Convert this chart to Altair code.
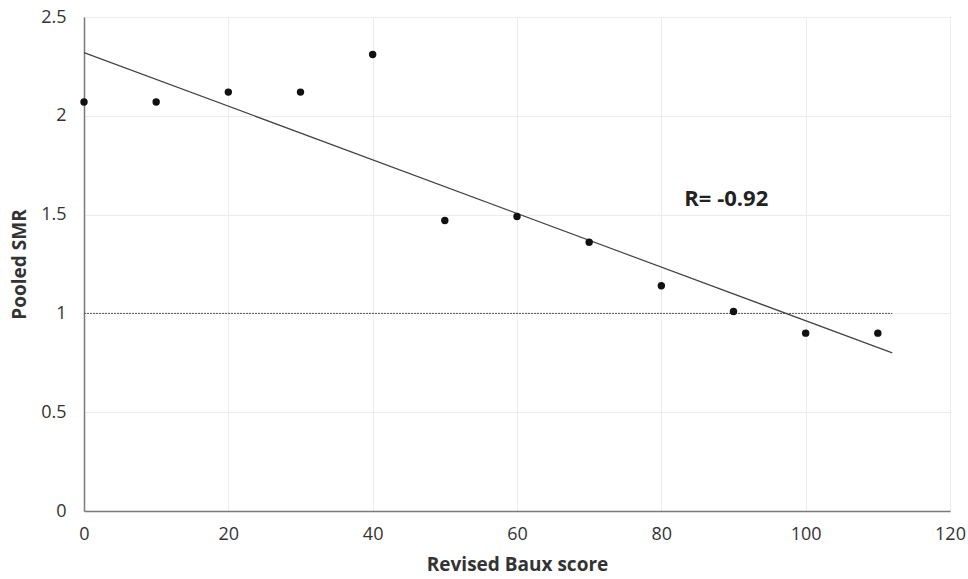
import altair as alt
import pandas as pd

baux = [0, 10, 20, 30, 40, 50, 60, 70, 80, 90, 100, 110]
smr = [2.07, 2.07, 2.12, 2.12, 2.31, 1.47, 1.49, 1.36, 1.14, 1.01, 0.90, 0.90]
trend_x = [0, 112]
trend_y = [2.32, 0.80]
ref_x = [0, 112]
ref_y = [1, 1]
label_text = ["R= -0.92"]
label_x = [89]
label_y = [1.58]

pts = pd.DataFrame({"x": baux, "y": smr})
trend = pd.DataFrame({"x": trend_x, "y": trend_y})
ref = pd.DataFrame({"x": ref_x, "y": ref_y})
lab = pd.DataFrame({"x": label_x, "y": label_y, "t": label_text})

xs = alt.Scale(domain=[0, 120], nice=False, zero=False)
ys = alt.Scale(domain=[0, 2.5], nice=False)

xax = alt.Axis(values=list(range(0, 121, 20)), title="Revised Baux score", tickSize=0,
               labelPadding=14, titlePadding=12, grid=True, gridColor="#ececec",
               domainColor="#7a7a7a", domainWidth=1.5, labelFontSize=18, titleFontSize=19,
               labelColor="#333333", titleColor="#333333", labelFont="Open Sans",
               titleFont="Open Sans", titleFontWeight="bold", labelFlush=False)
yax = alt.Axis(values=[0, 0.5, 1, 1.5, 2, 2.5], title="Pooled SMR", tickSize=0, format="~g",
               labelPadding=18, titlePadding=11, grid=True, gridColor="#ececec",
               domainColor="#7a7a7a", domainWidth=1.5, labelFontSize=18, titleFontSize=19,
               labelColor="#333333", titleColor="#333333", labelFont="Open Sans",
               titleFont="Open Sans", titleFontWeight="bold", labelFlush=False)

base_pts = alt.Chart(pts).mark_circle(size=55, color="#111111", opacity=1).encode(
    x=alt.X("x:Q", scale=xs, axis=xax),
    y=alt.Y("y:Q", scale=ys, axis=yax),
)
trend_line = alt.Chart(trend).mark_line(color="#444444", strokeWidth=1.2).encode(
    x=alt.X("x:Q", scale=xs), y=alt.Y("y:Q", scale=ys))
ref_line = alt.Chart(ref).mark_line(color="#555555", strokeWidth=1, strokeDash=[2, 1]).encode(
    x=alt.X("x:Q", scale=xs), y=alt.Y("y:Q", scale=ys))
text = alt.Chart(lab).mark_text(fontSize=22, fontWeight="bold", font="Open Sans",
                                color="#222222", align="center", baseline="middle").encode(
    x=alt.X("x:Q", scale=xs), y=alt.Y("y:Q", scale=ys), text="t:N")

chart = alt.layer(ref_line, trend_line, base_pts, text).properties(
    width=866, height=494,
    autosize=alt.AutoSizeParams(type="none"),
    padding={"left": 84, "top": 17, "right": 18, "bottom": 68},
).configure_view(stroke=None).configure(background="white")

chart.save("out.html", embed_options={"renderer": "svg", "actions": False})
